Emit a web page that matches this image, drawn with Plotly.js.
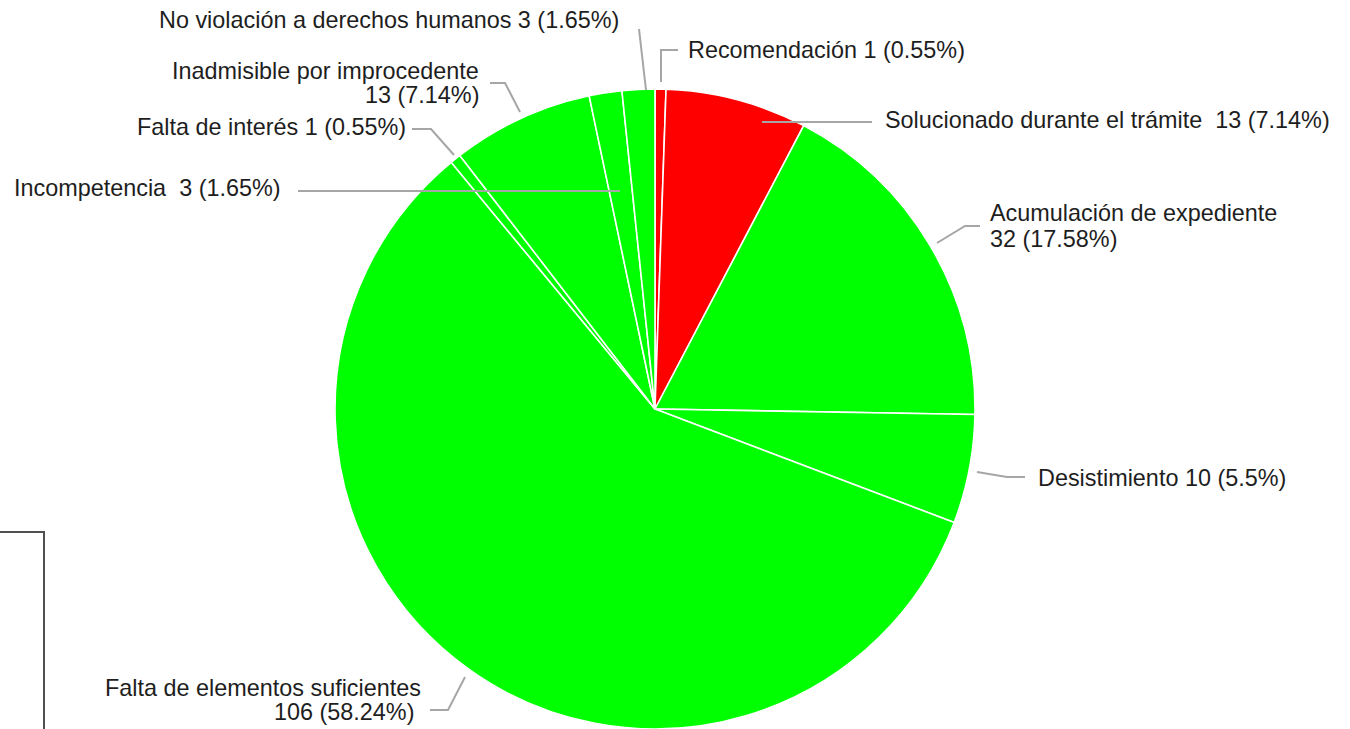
<!DOCTYPE html>
<html>
<head>
<meta charset="utf-8">
<script src="https://cdn.plot.ly/plotly-3.0.1.min.js"></script>
<style>html,body{margin:0;padding:0;background:#fff;}#chart{width:1350px;height:729px;}</style>
</head>
<body>
<div id="chart"></div>
<script>
// ---- data (clockwise from 12 o'clock) ----
const labels = [
  "Recomendación",
  "Solucionado durante el trámite",
  "Acumulación de expediente",
  "Desistimiento",
  "Falta de elementos suficientes",
  "Falta de interés",
  "Inadmisible por improcedente",
  "Incompetencia",
  "No violación a derechos humanos"
];
const values = [1, 13, 32, 10, 106, 1, 13, 3, 3];
const percents = ["0.55%", "7.14%", "17.58%", "5.5%", "58.24%", "0.55%", "7.14%", "1.65%", "1.65%"];
const colors = ["#ff0000", "#ff0000", "#00ff00", "#00ff00", "#00ff00", "#00ff00", "#00ff00", "#00ff00", "#00ff00"];

// ---- label placement (pixels) ----
const W = 1350, H = 729;
const px = x => x / W;
const py = y => 1 - y / H;
const SP = "\u00a0";
const place = [
  {lines: [labels[0] + " " + values[0] + " (" + percents[0] + ")"], x: 686, xa: "left", ys: [50],
   path: [[661, 82], [661, 50], [678, 50]]},
  {lines: [labels[1] + " " + SP + values[1] + " (" + percents[1] + ")"], x: 883, xa: "left", ys: [120],
   path: [[762, 122], [872, 122]]},
  {lines: [labels[2], values[2] + " (" + percents[2] + ")"], x: 988, xa: "left", ys: [213, 239],
   path: [[937, 243], [965, 226], [980, 226]]},
  {lines: [labels[3] + " " + values[3] + " (" + percents[3] + ")"], x: 1036, xa: "left", ys: [478],
   path: [[977, 472], [1007, 477], [1025, 477]]},
  {lines: [labels[4], values[4] + " (" + percents[4] + ")"], x: [423, 416], xa: "right", ys: [688, 712],
   path: [[465, 677], [448, 710], [430, 710]]},
  {lines: [labels[5] + " " + values[5] + " (" + percents[5] + ")"], x: 408, xa: "right", ys: [127],
   path: [[412, 129], [431, 129], [454, 155]]},
  {lines: [labels[6], values[6] + " (" + percents[6] + ")"], x: 481, xa: "right", ys: [71, 95],
   path: [[490, 83], [505, 83], [520, 112]]},
  {lines: [labels[7] + " " + SP + values[7] + " (" + percents[7] + ")"], x: 12, xa: "left", ys: [188],
   path: [[298, 191], [620, 191]]},
  {lines: [labels[8] + " " + values[8] + " (" + percents[8] + ")"], x: 621, xa: "right", ys: [20],
   path: [[646, 90], [639, 29]]}
];

const annotations = [];
const shapes = [];
place.forEach(p => {
  p.lines.forEach((t, i) => {
    const xx = Array.isArray(p.x) ? p.x[i] : p.x;
    annotations.push({
      text: t, showarrow: false, xref: "paper", yref: "paper",
      x: px(xx), y: py(p.ys[i]), xanchor: p.xa, yanchor: "middle",
      font: {family: "Liberation Sans, Arial, sans-serif", size: 23.4, color: "#1e1e1e"}
    });
  });
  const d = p.path.map((pt, i) => (i ? "L" : "M") + px(pt[0]) + "," + py(pt[1])).join(" ");
  shapes.push({type: "path", xref: "paper", yref: "paper", path: d,
    line: {color: "#a6a6a6", width: 2}});
});
// partial box at lower left
shapes.push({type: "path", xref: "paper", yref: "paper",
  path: "M0," + py(532) + " L" + px(44) + "," + py(532) + " L" + px(44) + "," + py(735),
  line: {color: "#505050", width: 2}});

const cx = 655, r = 320, topY = 89;
const trace = {
  type: "pie",
  labels: labels,
  values: values,
  sort: false,
  direction: "clockwise",
  rotation: 0,
  textinfo: "none",
  hoverinfo: "label+value+percent",
  marker: {colors: colors, line: {color: "#ffffff", width: 1.6}},
  domain: {x: [px(cx - r), px(cx + r)], y: [0, py(topY)]},
  showlegend: false
};

Plotly.newPlot("chart", [trace], {
  width: W, height: H,
  margin: {l: 0, r: 0, t: 0, b: 0},
  paper_bgcolor: "#ffffff",
  showlegend: false,
  annotations: annotations,
  shapes: shapes
}, {displayModeBar: false, staticPlot: true});
</script>
</body>
</html>
